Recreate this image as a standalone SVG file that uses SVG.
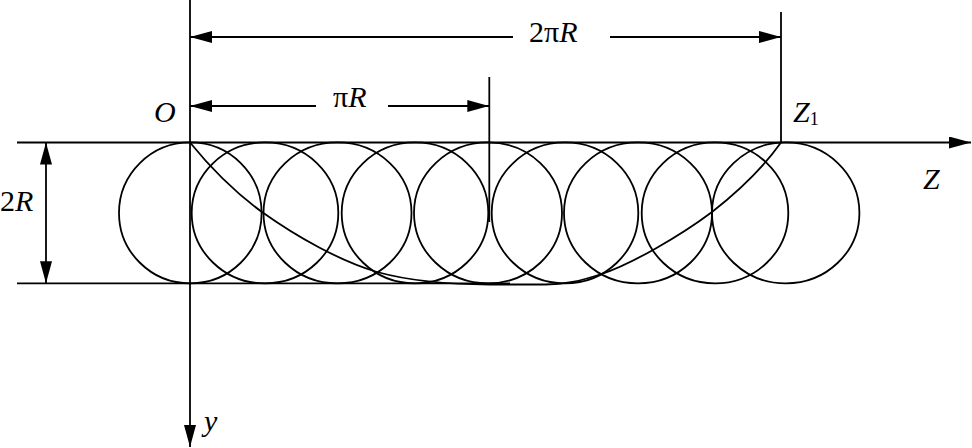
<svg xmlns="http://www.w3.org/2000/svg" width="972" height="448" viewBox="0 0 972 448">
<style>
.ln{fill:none;stroke:#000;stroke-width:1.8}
.c{fill:none;stroke:#000;stroke-width:1.8}
.t{font-family:"Liberation Serif","Times New Roman",serif;font-size:30px;fill:#000}
.i{font-style:italic}
</style>
<defs>
<marker id="ah" viewBox="0 0 22 12" refX="22" refY="6" markerWidth="22" markerHeight="12" orient="auto-start-reverse" markerUnits="userSpaceOnUse">
<path d="M0,0 L22,6 L0,12 z" fill="#000"/>
</marker>
</defs>
<rect width="972" height="448" fill="#fff"/>
<g id="circles">
<ellipse class="c" cx="190.3" cy="212.9" rx="71.3" ry="70.5"/>
<ellipse class="c" cx="265" cy="212.9" rx="73.3" ry="70.5"/>
<ellipse class="c" cx="337.5" cy="212.9" rx="74" ry="70.5"/>
<ellipse class="c" cx="415" cy="212.9" rx="73.3" ry="70.5"/>
<ellipse class="c" cx="488" cy="212.9" rx="74" ry="70.5"/>
<ellipse class="c" cx="565" cy="212.9" rx="73.3" ry="70.5"/>
<ellipse class="c" cx="638" cy="212.9" rx="74" ry="70.5"/>
<ellipse class="c" cx="715" cy="212.9" rx="73.3" ry="70.5"/>
<ellipse class="c" cx="785.7" cy="212.9" rx="73.7" ry="70.5"/>
</g>
<g id="cycloid">
<path class="ln" d="M190,142.5 C214,172 240,196 262,212 C297,237 340,261 377,272 C410,281 450,284.5 490,284.5 L545,284.5 C565,284.5 580,281 600,274.5 C630,265 680,236 712,212 C740,190 765,165 781,142.5"/>
</g>
<g id="axes">
<path class="ln" d="M17,142.5 H971" marker-end="url(#ah)"/>
<path class="ln" d="M17,283.3 H510"/>
<path class="ln" d="M190,0 V447" marker-end="url(#ah)"/>
</g>
<g id="connectors">
<path class="ln" d="M46,142.5 V283.3" marker-start="url(#ah)" marker-end="url(#ah)"/>
<path class="ln" d="M190,106 H316" marker-start="url(#ah)"/>
<path class="ln" d="M388,106 H489.3" marker-end="url(#ah)"/>
<path class="ln" d="M190,37 H513" marker-start="url(#ah)"/>
<path class="ln" d="M610,37 H781" marker-end="url(#ah)"/>
<path class="ln" d="M489.3,77 V222"/>
<path class="ln" d="M781,12 V142.5"/>
</g>
<g id="labels">
<text class="t" x="529" y="42">2π<tspan class="i">R</tspan></text>
<text class="t" x="333" y="106.5">π<tspan class="i">R</tspan></text>
<text class="t i" x="154" y="121.5">O</text>
<text class="t" x="0" y="210.5">2<tspan class="i">R</tspan></text>
<text class="t i" x="793" y="121.5">Z<tspan style="font-style:normal;font-size:18px" dy="3">1</tspan></text>
<text class="t i" x="923" y="189">Z</text>
<text class="t i" x="204" y="431">y</text>
</g>
</svg>
